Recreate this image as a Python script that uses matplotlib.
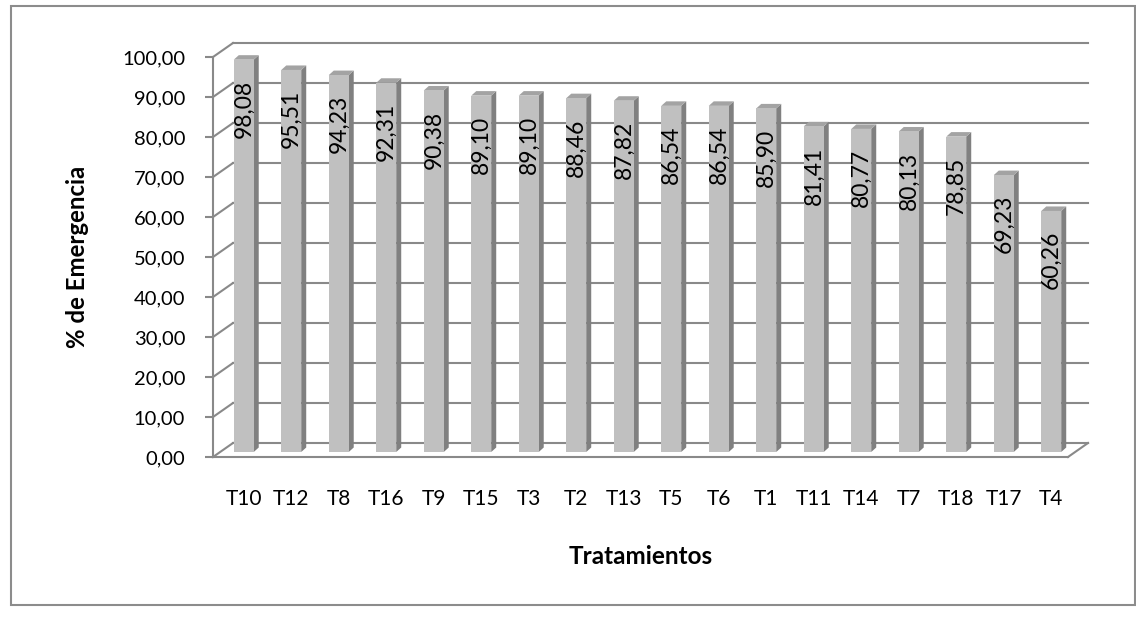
import matplotlib
matplotlib.use("Agg")
import matplotlib.pyplot as plt
import matplotlib.transforms as mtransforms
from matplotlib.patches import Polygon, Rectangle
from matplotlib.lines import Line2D
from matplotlib.ticker import MultipleLocator, FuncFormatter

# Emergence percentage per treatment (sorted, highest first)
tratamientos = ["T10", "T12", "T8", "T16", "T9", "T15", "T3", "T2", "T13",
                "T5", "T6", "T1", "T11", "T14", "T7", "T18", "T17", "T4"]
emergencia = [98.08, 95.51, 94.23, 92.31, 90.38, 89.10, 89.10, 88.46, 87.82,
              86.54, 86.54, 85.90, 81.41, 80.77, 80.13, 78.85, 69.23, 60.26]
y_ticks = [0, 10, 20, 30, 40, 50, 60, 70, 80, 90, 100]

plt.rcParams['font.family'] = ['Lato', 'DejaVu Sans']

W, H, DPI = 1136, 622, 100
fig = plt.figure(figsize=(W / DPI, H / DPI), dpi=DPI)
fig.patch.set_facecolor("white")

GRID = "#898989"
FRONT = "#c0c0c0"
SIDE = "#808080"
TOP = "#a3a3a3"

# Axes = front plane of the 3-D box
ax = fig.add_axes([213 / W, (H - 457) / H, 855 / W, 400 / H])
ax.set_xlim(-0.5, len(tratamientos) - 0.5)
ax.set_ylim(0, 100)
ax.set_facecolor("none")
for s in ("top", "right"):
    ax.spines[s].set_visible(False)
for s in ("left", "bottom"):
    ax.spines[s].set_color(GRID)
    ax.spines[s].set_linewidth(1.5)
    ax.spines[s].set_zorder(6)

ax.yaxis.set_major_locator(MultipleLocator(10))
ax.yaxis.set_major_formatter(FuncFormatter(lambda v, p: f"{v:.2f}".replace(".", ",")))
ax.tick_params(axis="y", direction="out", length=6, width=1.5, color=GRID,
               labelsize=14.5, pad=14)
ax.set_xticks(range(len(tratamientos)))
ax.set_xticklabels(tratamientos)
ax.tick_params(axis="x", length=0, labelsize=15, pad=23)

# depth offsets in pixels (display coords, y up)
BACK_DX, BACK_DY = 20, 14
BAR_DX, BAR_DY = 7, 5
SIDE_DX, SIDE_DY = 5, 4.5

bar_shift = mtransforms.ScaledTranslation(BAR_DX / DPI, 0, fig.dpi_scale_trans)
for lab in ax.get_xticklabels():
    lab.set_transform(lab.get_transform() + bar_shift)

ident = mtransforms.IdentityTransform()


def disp(x, y, dx=0.0, dy=0.0):
    px, py = ax.transData.transform((x, y))
    return (px + dx, py + dy)


x0, x1 = ax.get_xlim()

# back wall gridlines and left wall connectors
for v in y_ticks:
    a = disp(x0, v, BACK_DX, BACK_DY)
    b = disp(x1, v, BACK_DX, BACK_DY)
    ax.add_line(Line2D([a[0], b[0]], [a[1], b[1]], transform=ident, color=GRID,
                       lw=1.5, zorder=1, clip_on=False))
    f = disp(x0, v)
    ax.add_line(Line2D([f[0], a[0]], [f[1], a[1]], transform=ident, color=GRID,
                       lw=1.5, zorder=1, clip_on=False))

# right edge of the floor
fr = disp(x1, 0)
bk = disp(x1, 0, BACK_DX, BACK_DY)
ax.add_line(Line2D([fr[0], bk[0]], [fr[1], bk[1]], transform=ident, color=GRID,
                   lw=1.5, zorder=6, clip_on=False))

# 3-D columns
w = 0.42
for i, v in enumerate(emergencia):
    xl, xr = i - w / 2, i + w / 2
    front = [disp(xl, 0, BAR_DX, BAR_DY), disp(xr, 0, BAR_DX, BAR_DY),
             disp(xr, v, BAR_DX, BAR_DY), disp(xl, v, BAR_DX, BAR_DY)]
    side = [disp(xr, 0, BAR_DX, BAR_DY), disp(xr, v, BAR_DX, BAR_DY),
            disp(xr, v, BAR_DX + SIDE_DX, BAR_DY + SIDE_DY),
            disp(xr, 0, BAR_DX + SIDE_DX, BAR_DY + SIDE_DY)]
    top = [disp(xl, v, BAR_DX, BAR_DY), disp(xr, v, BAR_DX, BAR_DY),
           disp(xr, v, BAR_DX + SIDE_DX, BAR_DY + SIDE_DY),
           disp(xl, v, BAR_DX + SIDE_DX, BAR_DY + SIDE_DY)]
    for pts, col in ((side, SIDE), (top, TOP), (front, FRONT)):
        ax.add_patch(Polygon(pts, closed=True, transform=ident, facecolor=col,
                             edgecolor="none", zorder=3, clip_on=False))
    lx, ly = disp(i, v, BAR_DX, BAR_DY - 20)
    ax.text(lx, ly, f"{v:.2f}".replace(".", ","), transform=ident,
            rotation=90, ha="center", va="top", fontsize=16.5, color="black",
            zorder=5)

ax.set_xlabel("Tratamientos", fontsize=17.5, fontweight="bold", labelpad=26)
ax.set_ylabel("% de Emergencia", fontsize=17.3, fontweight="bold", labelpad=24)

# chart border
fig.patches.append(Rectangle((11 / W, (H - 605) / H), 1124 / W, 599 / H,
                             transform=fig.transFigure, fill=False,
                             edgecolor="#8c8c8c", lw=1.5, zorder=0))

fig.savefig("out.png", dpi=DPI, facecolor="white")
